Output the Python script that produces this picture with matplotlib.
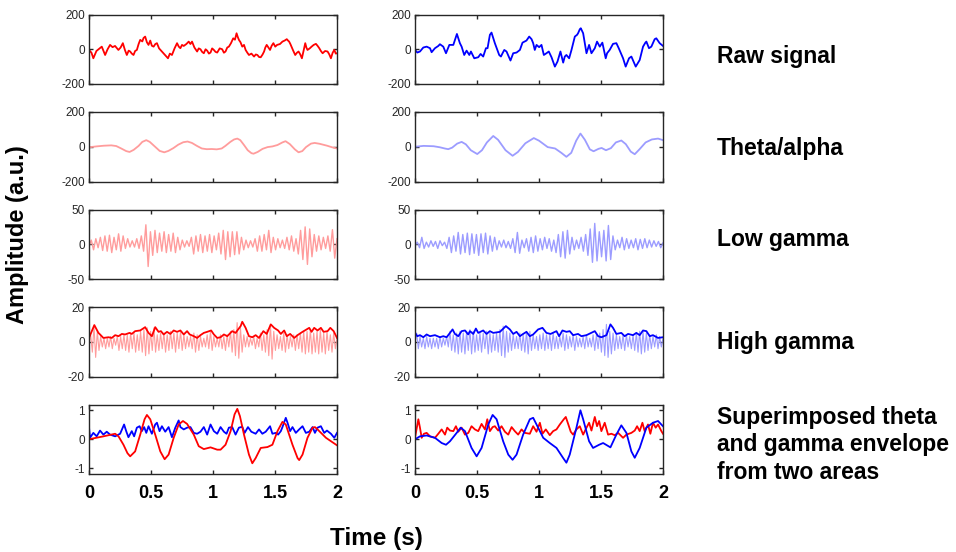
import numpy as np
import matplotlib.pyplot as plt

plt.rcParams['font.family'] = ['Liberation Sans', 'DejaVu Sans']
plt.rcParams['axes.unicode_minus'] = False

# ---- data (time in s, amplitude in a.u.) ----
# raw signal, (t, v) pairs
raw_left = [(0, -4), (0.02, -20), (0.035, -52), (0.06, -10), (0.085, 5), (0.103, 15), (0.13, -33),
            (0.15, 0), (0.17, 25), (0.19, 12), (0.21, 19), (0.237, -4), (0.255, 10), (0.273, 35),
            (0.29, -5), (0.305, -33), (0.32, -8), (0.332, -13), (0.345, -25), (0.359, -33),
            (0.372, -10), (0.386, -4), (0.40, 30), (0.413, 54), (0.43, 45), (0.44, 65), (0.453, 73),
            (0.467, 40), (0.48, 25), (0.494, 50), (0.507, 20), (0.521, 15), (0.535, 30), (0.548, 35),
            (0.565, 5), (0.588, -13), (0.61, -30), (0.637, -52), (0.652, -25), (0.669, -33),
            (0.69, 5), (0.71, 35), (0.724, 15), (0.737, 6), (0.75, 25), (0.764, 19), (0.785, 30),
            (0.804, 44), (0.818, 30), (0.831, 44), (0.85, 10), (0.872, -13), (0.885, 5), (0.899, 0),
            (0.912, -15), (0.926, -23), (0.94, 0), (0.953, -8), (0.967, -25), (0.98, -19),
            (0.993, 5), (1.007, -4), (1.02, -15), (1.034, -19), (1.054, 5), (1.074, 0), (1.088, -20),
            (1.101, -13), (1.115, 10), (1.128, 15), (1.145, 35), (1.163, 63), (1.177, 55),
            (1.19, 92), (1.2, 70), (1.209, 54), (1.222, 40), (1.236, 15), (1.25, 25), (1.263, -4),
            (1.277, -20), (1.29, -33), (1.31, -25), (1.331, -42), (1.345, -30), (1.358, -33),
            (1.372, -45), (1.385, -46), (1.4, -30), (1.412, -13), (1.422, 10), (1.433, 25),
            (1.447, 10), (1.46, -4), (1.473, 20), (1.487, 35), (1.502, 15), (1.517, 25), (1.54, 30),
            (1.56, 44), (1.578, 50), (1.595, 58), (1.605, 50), (1.614, 44), (1.624, 30), (1.633, 15),
            (1.648, -10), (1.663, -33), (1.677, -20), (1.69, -13), (1.704, -30), (1.717, -52),
            (1.73, -10), (1.744, 35), (1.753, 10), (1.762, -4), (1.78, 5), (1.795, 15), (1.812, 25),
            (1.83, 31), (1.843, 20), (1.857, 6), (1.87, -10), (1.884, -23), (1.904, -10),
            (1.924, -13), (1.938, -30), (1.951, -52), (1.965, -20), (1.978, -4), (1.99, -25), (2.0, -23)]

raw_right = [(0, -4), (0.019, -19), (0.04, -13), (0.067, 10), (0.094, 15), (0.121, 6), (0.134, -17),
             (0.161, 6), (0.188, 19), (0.201, 29), (0.228, 15), (0.25, -23), (0.277, 25), (0.309, 25),
             (0.338, 88), (0.362, 35), (0.376, 15), (0.397, -33), (0.416, -8), (0.438, -33),
             (0.451, -13), (0.478, -52), (0.51, -46), (0.529, -27), (0.55, -42), (0.572, 6),
             (0.585, 6), (0.604, 83), (0.617, 96), (0.644, 35), (0.679, -33), (0.693, -42),
             (0.706, -23), (0.72, -4), (0.738, -13), (0.77, -65), (0.792, -23), (0.819, -19),
             (0.846, -4), (0.867, 38), (0.899, 50), (0.921, 73), (0.94, 58), (0.953, 35),
             (0.966, -4), (0.98, 25), (1.001, 12), (1.02, 25), (1.039, -33), (1.06, -23),
             (1.079, -13), (1.101, -46), (1.128, -100), (1.149, -71), (1.173, -13), (1.195, -77),
             (1.208, -42), (1.221, -33), (1.243, -52), (1.262, -4), (1.289, 73), (1.307, 83),
             (1.315, 92), (1.329, 115), (1.337, 121), (1.356, 92), (1.383, -23), (1.404, 25),
             (1.423, -23), (1.45, 6), (1.468, 44), (1.49, 15), (1.511, 38), (1.538, -52),
             (1.549, -23), (1.57, -4), (1.597, 31), (1.624, 35), (1.643, 6), (1.678, -52),
             (1.699, -100), (1.726, -52), (1.745, -42), (1.78, -100), (1.812, -62), (1.839, 15),
             (1.858, 38), (1.866, 44), (1.887, 6), (1.906, 15), (1.933, 58), (1.946, 63),
             (1.973, 35), (2.0, 19)]

# theta/alpha band
theta_left = [(0, -3), (0.06, 2), (0.12, 6), (0.18, 8), (0.22, 4), (0.26, -10), (0.30, -25),
              (0.327, -30), (0.36, -18), (0.40, 5), (0.43, 28), (0.462, 38), (0.49, 28), (0.53, 2),
              (0.57, -24), (0.607, -32), (0.64, -24), (0.68, -8), (0.72, 12), (0.76, 26),
              (0.795, 30), (0.83, 22), (0.87, 5), (0.91, -10), (0.95, -14), (0.99, -13), (1.03, -15),
              (1.07, -10), (1.10, 5), (1.14, 28), (1.17, 42), (1.196, 47), (1.22, 38), (1.25, 10),
              (1.28, -20), (1.31, -37), (1.327, -40), (1.36, -30), (1.40, -12), (1.44, -2),
              (1.48, 2), (1.52, 10), (1.56, 25), (1.585, 32), (1.62, 15), (1.66, -15), (1.69, -32),
              (1.72, -25), (1.75, -2), (1.79, 18), (1.82, 22), (1.86, 17), (1.92, 6), (1.96, -3),
              (2.0, -10)]

theta_right = [(0, 0), (0.07, 5), (0.15, 3), (0.2, -3), (0.24, -10), (0.268, -14), (0.30, -5),
               (0.34, 18), (0.376, 28), (0.41, 14), (0.45, -20), (0.502, -42), (0.54, -20),
               (0.58, 25), (0.631, 62), (0.67, 40), (0.73, -20), (0.787, -52), (0.83, -30),
               (0.89, 20), (0.958, 50), (1.0, 35), (1.07, -2), (1.13, -10), (1.18, -35),
               (1.221, -58), (1.26, -35), (1.30, 35), (1.334, 76), (1.37, 40), (1.41, -15),
               (1.44, -26), (1.48, -12), (1.505, -7), (1.54, -20), (1.58, -8), (1.62, 25),
               (1.664, 36), (1.70, 15), (1.74, -28), (1.772, -43), (1.81, -15), (1.86, 25),
               (1.91, 42), (1.96, 47), (2.0, 38)]

# low gamma band: successive peaks/troughs, evenly spread over 0-2 s
lowgamma_left = [-3, 6, -8, 8, -5, 10, -9, 12, -10, 13, -12, 10, -8, 15, -10, 12, -6, 8, -4, 5,
                 -4, 8, -6, 12, -10, 28, -32, 18, -16, 20, -12, 16, -10, 18, -12, 14, -10, 16, -12, 10,
                 -8, 6, -4, 5, -3, 10, -14, 12, -10, 14, -12, 12, -10, 14, -12, 12, -8, 16, -14, 20,
                 -22, 18, -18, 18, -15, 18, -14, 10, -8, 6, -5, 5, -4, 8, -10, 12, -10, 14, -8, 20,
                 -12, 10, -8, 8, -5, 6, -6, 10, -8, 12, -10, 8, -14, 20, -22, 25, -29, 22, -18, 14,
                 -10, 12, -8, 10, -6, 12, -10, 21, -20, 8]

lowgamma_right = [-2, 3, -5, 10, -6, 3, -4, 5, -3, 4, -6, 5, -2, 3, -6, 10, -12, 12, -10, 17,
                  -14, 14, -12, 16, -15, 15, -13, 14, -16, 15, -12, 16, -14, 12, -10, 10, -8, 5, -4, 6,
                  -5, 4, -6, 8, -12, 17, -13, 6, -5, 8, -10, 10, -12, 12, -10, 8, -8, 10, -6, 8,
                  -10, 6, -12, 14, -18, 18, -20, 20, -14, 10, -8, 6, -6, 10, -10, 14, -16, 22, -26, 30,
                  -24, 18, -18, 20, -24, 27, -22, 12, -8, 6, -5, 10, -8, 8, -6, 6, -5, 8, -8, 7,
                  -6, 8, -5, 6, -4, 5, -3, 4, -5, 2]

# high gamma band (fast, evenly spread) and its envelope (t, v)
highgamma_left = [-1, 4, -6, 9, -9, 6, -5, 3, -3, 2, -4, 2, -3, 3, -4, 2, -2, 3, -5, 3,
                  -4, 4, -5, 4, -6, 5, -4, 5, -6, 4, -5, 6, -6, 7, -8, 8, -7, 6, -5, 8,
                  -6, 4, -5, 5, -4, 5, -6, 4, -5, 6, -4, 5, -6, 5, -4, 6, -5, 4, -4, 3,
                  -3, 3, -4, 5, -6, 4, -5, 3, -3, 2, -3, 4, -4, 6, -5, 3, -3, 2, -3, 4,
                  -4, 3, -5, 4, -3, 6, -6, 7, -8, 11, -9.5, 8, -6, 4, -3, 3, -3, 2, -2, 3,
                  -4, 2, -3, 5, -5, 4, -6, 7, -8, 10, -10, 6, -5, 4, -4, 3, -5, 5, -6, 4,
                  -4, 3, -3, 4, -5, 4, -4, 5, -6, 6, -7, 6, -6, 7, -7, 5, -6, 6, -7, 7,
                  -6, 5, -7, 6, -5, 4, -6, 5, -4, 2]

highgamma_right = [-1, 5, -4, 3, -3, 2, -4, 3, -3, 2, -4, 2, -3, 2, -4, 3, -3, 2, -2, 3,
                   -3, 6, -5, 4, -6, 5, -7, 6, -6, 5, -7, 6, -5, 7, -7, 6, -6, 4, -5, 5,
                   -6, 5, -4, 6, -7, 5, -6, 4, -5, 5, -6, 7, -8, 9, -9, 6, -6, 5, -5, 4,
                   -4, 3, -4, 5, -5, 4, -6, 6, -7, 6, -5, 4, -4, 3, -5, 4, -4, 5, -5, 4,
                   -4, 4, -5, 5, -4, 3, -4, 3, -3, 5, -5, 4, -4, 3, -3, 4, -5, 3, -3, 2,
                   -3, 3, -4, 4, -3, 2, -3, 4, -5, 4, -4, 5, -6, 7, -8, 10, -9, 6, -7, 5,
                   -5, 4, -4, 3, -4, 4, -5, 4, -3, 3, -4, 4, -5, 5, -6, 6, -7, 6, -6, 5,
                   -5, 4, -4, 3, -3, 4, -4, 3, -3, 2]

env_left = [(0, 2.2), (0.043, 9.6), (0.076, 5.1), (0.089, 4.2), (0.116, 2.2), (0.157, 2.6),
            (0.184, 2.2), (0.211, 3.8), (0.238, 3.2), (0.265, 4.5), (0.291, 4.2), (0.327, 5.1),
            (0.345, 4.5), (0.372, 6.1), (0.413, 6.5), (0.453, 8.4), (0.48, 5.1), (0.507, 3.2),
            (0.534, 8.4), (0.561, 5.7), (0.58, 6.1), (0.602, 4.2), (0.629, 5.7), (0.656, 4.5),
            (0.683, 6.5), (0.71, 5.7), (0.737, 6.5), (0.764, 4.2), (0.791, 6.1), (0.812, 4.2),
            (0.845, 3.2), (0.872, 2.2), (0.899, 3.8), (0.926, 5.1), (0.953, 5.7), (0.985, 6.5),
            (1.007, 4.2), (1.034, 2.2), (1.061, 2.6), (1.088, 4.2), (1.115, 3.2), (1.155, 6.1),
            (1.182, 5.1), (1.223, 9.0), (1.236, 11.5), (1.263, 8.0), (1.29, 3.2), (1.317, 2.6),
            (1.344, 3.8), (1.371, 2.2), (1.406, 6.1), (1.433, 4.5), (1.466, 10.0), (1.493, 8.0),
            (1.525, 6.5), (1.547, 4.5), (1.574, 6.5), (1.595, 3.2), (1.622, 4.5), (1.655, 2.2),
            (1.682, 3.8), (1.722, 5.7), (1.776, 8.0), (1.795, 5.7), (1.816, 8.0), (1.843, 6.5),
            (1.87, 8.0), (1.892, 5.7), (1.924, 6.1), (1.946, 8.0), (1.973, 6.1), (2.0, 2.2)]

env_right = [(0, 5.1), (0.019, 3.2), (0.04, 3.8), (0.067, 2.6), (0.094, 4.2), (0.121, 3.2),
             (0.161, 3.8), (0.201, 2.6), (0.228, 3.2), (0.255, 2.6), (0.282, 5.1), (0.303, 7.1),
             (0.322, 4.5), (0.349, 3.2), (0.376, 6.1), (0.403, 6.5), (0.429, 4.2), (0.443, 6.1),
             (0.47, 4.5), (0.491, 7.6), (0.51, 5.1), (0.55, 6.5), (0.577, 4.5), (0.604, 6.1),
             (0.631, 5.1), (0.685, 5.7), (0.733, 9.0), (0.765, 7.1), (0.792, 4.5), (0.819, 5.7),
             (0.846, 3.2), (0.872, 4.5), (0.899, 5.7), (0.926, 3.2), (0.953, 4.2), (0.993, 7.1),
             (1.028, 8.0), (1.06, 5.1), (1.093, 4.5), (1.141, 6.1), (1.162, 3.2), (1.189, 6.5),
             (1.221, 5.7), (1.248, 6.1), (1.275, 3.8), (1.315, 4.5), (1.342, 3.2), (1.383, 3.8),
             (1.45, 6.1), (1.477, 3.2), (1.503, 2.6), (1.544, 3.8), (1.576, 10.0), (1.597, 8.0),
             (1.624, 4.5), (1.664, 5.1), (1.691, 3.2), (1.718, 4.5), (1.758, 3.8), (1.785, 5.1),
             (1.812, 3.8), (1.839, 6.5), (1.866, 6.1), (1.893, 3.2), (1.919, 3.8), (1.96, 2.2),
             (2.0, 2.6)]

# superimposed, normalised theta and gamma envelope
sup_theta_left = [(0, 0), (0.116, 0.1), (0.211, 0.19), (0.238, 0.1), (0.278, -0.19), (0.31, -0.48),
                  (0.332, -0.59), (0.372, -0.42), (0.413, 0.16), (0.448, 0.69), (0.467, 0.84),
                  (0.494, 0.69), (0.534, 0.16), (0.575, -0.42), (0.61, -0.69), (0.642, -0.53),
                  (0.683, 0.05), (0.723, 0.51), (0.758, 0.63), (0.791, 0.53), (0.845, 0.16),
                  (0.885, -0.24), (0.926, -0.34), (0.98, -0.28), (1.034, -0.36), (1.061, -0.36),
                  (1.101, -0.19), (1.142, 0.28), (1.174, 0.86), (1.196, 1.05), (1.217, 0.8),
                  (1.25, 0.16), (1.29, -0.53), (1.317, -0.83), (1.344, -0.65), (1.385, -0.3),
                  (1.439, -0.27), (1.479, -0.19), (1.52, 0.28), (1.56, 0.6), (1.587, 0.51),
                  (1.641, -0.19), (1.682, -0.65), (1.695, -0.72), (1.722, -0.53), (1.762, 0.05),
                  (1.803, 0.4), (1.822, 0.42), (1.843, 0.34), (1.911, 0.05), (2.0, -0.21)]

sup_env_left = [(0, 0.42), (0.008, 0.05), (0.035, 0.22), (0.062, 0.1), (0.089, 0.3), (0.116, 0.16),
                (0.143, 0.26), (0.17, 0.16), (0.211, 0.1), (0.251, 0.19), (0.283, 0.51), (0.3, 0.28),
                (0.318, 0.07), (0.345, 0.28), (0.364, 0.1), (0.386, 0.4), (0.408, 0.45),
                (0.426, 0.28), (0.445, 0.42), (0.462, 0.22), (0.48, 0.45), (0.507, 0.19),
                (0.534, 0.51), (0.548, 0.57), (0.569, 0.28), (0.588, 0.45), (0.615, 0.26),
                (0.642, 0.42), (0.669, 0.07), (0.696, 0.4), (0.723, 0.65), (0.737, 0.42),
                (0.764, 0.34), (0.791, 0.4), (0.818, 0.42), (0.845, 0.22), (0.872, 0.19),
                (0.899, 0.26), (0.926, 0.42), (0.953, 0.16), (0.98, 0.51), (1.007, 0.28),
                (1.034, 0.19), (1.061, 0.42), (1.088, 0.26), (1.109, 0.19), (1.128, 0.4),
                (1.155, 0.42), (1.182, 0.16), (1.209, 0.4), (1.236, 0.43), (1.255, 0.22),
                (1.282, 0.42), (1.309, 0.26), (1.344, 0.19), (1.371, 0.34), (1.398, 0.19),
                (1.425, 0.26), (1.46, 0.45), (1.479, 0.19), (1.506, 0.22), (1.525, 0.16),
                (1.547, 0.28), (1.56, 0.42), (1.587, 0.74), (1.601, 0.57), (1.622, 0.28),
                (1.641, 0.42), (1.668, 0.22), (1.695, 0.34), (1.722, 0.45), (1.749, 0.22),
                (1.776, 0.26), (1.803, 0.42), (1.822, 0.22), (1.843, 0.4), (1.87, 0.45),
                (1.897, 0.22), (1.919, 0.3), (1.951, 0.19), (1.978, 0.05), (2.0, 0.22)]

sup_theta_right = [(0, 0), (0.04, 0.1), (0.094, 0.13), (0.161, 0.05), (0.215, -0.13), (0.25, -0.19),
                   (0.282, -0.07), (0.336, 0.22), (0.368, 0.4), (0.403, 0.28), (0.456, -0.3),
                   (0.497, -0.59), (0.537, -0.3), (0.591, 0.51), (0.626, 0.84), (0.658, 0.69),
                   (0.711, -0.07), (0.752, -0.53), (0.787, -0.71), (0.819, -0.53), (0.872, 0.16),
                   (0.926, 0.69), (0.953, 0.74), (0.98, 0.51), (1.034, 0.05), (1.087, -0.13),
                   (1.141, -0.3), (1.195, -0.65), (1.221, -0.81), (1.248, -0.53), (1.302, 0.4),
                   (1.334, 1.0), (1.356, 0.69), (1.404, -0.07), (1.436, -0.3), (1.485, -0.19),
                   (1.517, -0.13), (1.576, -0.28), (1.624, 0.16), (1.664, 0.48), (1.705, 0.22),
                   (1.745, -0.42), (1.772, -0.64), (1.812, -0.3), (1.866, 0.4), (1.919, 0.57),
                   (1.96, 0.63), (2.0, 0.45)]

sup_env_right = [(0, 0.05), (0.027, 0.69), (0.04, 0.4), (0.054, 0.05), (0.072, 0.19), (0.094, 0.22),
                 (0.121, 0.1), (0.161, 0.05), (0.188, 0.19), (0.215, 0.34), (0.242, 0.16),
                 (0.26, 0.4), (0.282, 0.3), (0.309, 0.28), (0.33, 0.45), (0.349, 0.26), (0.376, 0.4),
                 (0.403, 0.16), (0.43, 0.22), (0.456, 0.45), (0.483, 0.34), (0.51, 0.28),
                 (0.537, 0.53), (0.564, 0.34), (0.583, 0.69), (0.604, 0.28), (0.626, 0.42),
                 (0.644, 0.45), (0.671, 0.3), (0.698, 0.45), (0.725, 0.26), (0.752, 0.16),
                 (0.779, 0.42), (0.805, 0.28), (0.832, 0.16), (0.859, 0.34), (0.886, 0.22),
                 (0.926, 0.19), (0.953, 0.45), (0.98, 0.26), (1.007, 0.57), (1.028, 0.19),
                 (1.055, 0.34), (1.087, 0.14), (1.114, 0.28), (1.141, 0.34), (1.168, 0.51),
                 (1.2, 0.69), (1.216, 0.77), (1.235, 0.53), (1.256, 0.26), (1.275, 0.16),
                 (1.302, 0.34), (1.329, 0.45), (1.356, 0.16), (1.383, 0.4), (1.404, 0.57),
                 (1.423, 0.3), (1.45, 0.77), (1.468, 0.45), (1.485, 0.63), (1.503, 0.28),
                 (1.53, 0.57), (1.557, 0.16), (1.584, 0.19), (1.611, 0.14), (1.638, 0.22),
                 (1.678, 0.05), (1.705, 0.16), (1.745, 0.22), (1.772, 0.3), (1.791, 0.45),
                 (1.812, 0.28), (1.834, 0.57), (1.852, 0.28), (1.879, 0.51), (1.898, 0.19),
                 (1.919, 0.57), (1.941, 0.4), (1.96, 0.51), (1.987, 0.28), (2.0, 0.19)]

row_labels = ['Raw signal', 'Theta/alpha', 'Low gamma', 'High gamma',
              'Superimposed theta\nand gamma envelope\nfrom two areas']
row_ylims = [200, 200, 50, 20, 1.2]
row_yticks = [[-200, 0, 200], [-200, 0, 200], [-50, 0, 50], [-20, 0, 20], [-1, 0, 1]]
x_ticks = [0, 0.5, 1, 1.5, 2]

RED, BLUE = '#ff0000', '#0000ff'
LRED, LBLUE = '#ff9c9c', '#9c9cff'


def xy(pairs):
    t, v = zip(*pairs)
    return np.array(t), np.array(v)


def even(vals):
    return np.linspace(0, 2, len(vals)), np.array(vals)


fig = plt.figure(figsize=(9.56, 5.52), dpi=100)

col_left = [89 / 956, 415 / 956]
ax_w = 248 / 956
row_bottom = [1 - 84 / 552, 1 - 181.5 / 552, 1 - 279 / 552, 1 - 376.5 / 552, 1 - 474 / 552]
ax_h = 69.5 / 552

traces = [
    [[(xy(raw_left), RED, 1.3)], [(xy(raw_right), BLUE, 1.3)]],
    [[(xy(theta_left), LRED, 1.3)], [(xy(theta_right), LBLUE, 1.3)]],
    [[(even(lowgamma_left), LRED, 1.0)], [(even(lowgamma_right), LBLUE, 1.0)]],
    [[(even(highgamma_left), LRED, 0.8), (xy(env_left), RED, 1.3)],
     [(even(highgamma_right), LBLUE, 0.8), (xy(env_right), BLUE, 1.3)]],
    [[(xy(sup_env_left), BLUE, 1.3), (xy(sup_theta_left), RED, 1.3)],
     [(xy(sup_env_right), RED, 1.3), (xy(sup_theta_right), BLUE, 1.3)]],
]

for r in range(5):
    for c in range(2):
        ax = fig.add_axes([col_left[c], row_bottom[r], ax_w, ax_h])
        for (t, v), color, lw in traces[r][c]:
            ax.plot(t, v, color=color, lw=lw)
        ax.set_xlim(0, 2)
        ax.set_ylim(-row_ylims[r], row_ylims[r])
        ax.set_xticks(x_ticks)
        ax.set_yticks(row_yticks[r])
        ax.tick_params(direction='in', length=3, width=1, color='#262626',
                       top=True, right=True, labelsize=8.5, labelcolor='#262626', pad=3)
        for s in ax.spines.values():
            s.set_color('#262626')
            s.set_linewidth(1.0)
        if r < 4:
            ax.set_xticklabels([])
        else:
            ax.set_xticklabels(['0', '0.5', '1', '1.5', '2'],
                               fontweight='bold', fontsize=13, color='black')
            ax.tick_params(axis='x', pad=8)

label_y = [57, 148, 240, 342, 445]
for lab, yp in zip(row_labels, label_y):
    fig.text(717 / 956, 1 - yp / 552, lab, fontsize=16.5, fontweight='bold',
             ha='left', va='center', linespacing=1.25)

fig.text(18 / 956, 1 - 235 / 552, 'Amplitude (a.u.)', rotation=90, fontsize=17,
         fontweight='bold', ha='center', va='center')
fig.text(376 / 956, 1 - 538 / 552, 'Time (s)', fontsize=17.5, fontweight='bold',
         ha='center', va='center')

fig.savefig('out.png', dpi=100)
